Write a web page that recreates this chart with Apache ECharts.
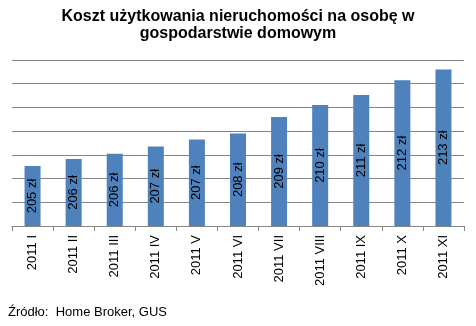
<!DOCTYPE html>
<html><head><meta charset="utf-8">
<script src="https://cdn.jsdelivr.net/npm/echarts@6/dist/echarts.min.js"></script>
<style>html,body{margin:0;padding:0;background:#fff}#c{width:476px;height:326px}</style>
</head><body><div id="c"></div>
<script>
const categories = ['2011 I','2011 II','2011 III','2011 IV','2011 V','2011 VI','2011 VII','2011 VIII','2011 IX','2011 X','2011 XI'];
const values = [205.06, 205.65, 206.1, 206.7, 207.3, 207.8, 209.2, 210.2, 211.05, 212.3, 213.2];
const valueLabels = ['205 zł','206 zł','206 zł','207 zł','207 zł','208 zł','209 zł','210 zł','211 zł','212 zł','213 zł'];
const titleText = 'Koszt użytkowania nieruchomości na osobę w\ngospodarstwie domowym';
const sourceText = 'Źródło:  Home Broker, GUS';

const chart = echarts.init(document.getElementById('c'), null, {renderer:'canvas'});
chart.setOption({
  animation:false,
  backgroundColor:'#fff',
  title:{
    text:titleText, left:'center', top:3,
    textStyle:{fontFamily:'Liberation Sans, Arial', fontWeight:'bold', fontSize:16, color:'#000', lineHeight:17}
  },
  graphic:[{type:'text', left:8, top:306, style:{text:sourceText, font:'13px "Liberation Sans", Arial', fill:'#000'}}],
  grid:{left:12, right:12, top:60, bottom:100},
  xAxis:{
    type:'category', data:categories,
    axisLine:{lineStyle:{color:'#868686', width:1}},
    axisTick:{show:true, length:5, interval:0, lineStyle:{color:'#868686'}},
    axisLabel:{rotate:90, interval:0, margin:9, fontSize:13, color:'#000', fontFamily:'Liberation Sans, Arial'}
  },
  yAxis:{
    type:'value', min:200, max:214, interval:2,
    axisLabel:{show:false}, axisLine:{show:false}, axisTick:{show:false},
    splitLine:{lineStyle:{color:'#868686', width:1}}
  },
  series:[{
    type:'bar', data:values, barWidth:16,
    itemStyle:{color:'#4F81BD'},
    label:{show:true, position:'inside', rotate:90, fontSize:13, color:'#000', fontFamily:'Liberation Sans, Arial',
      formatter:p=>valueLabels[p.dataIndex]}
  }]
});
</script></body></html>
